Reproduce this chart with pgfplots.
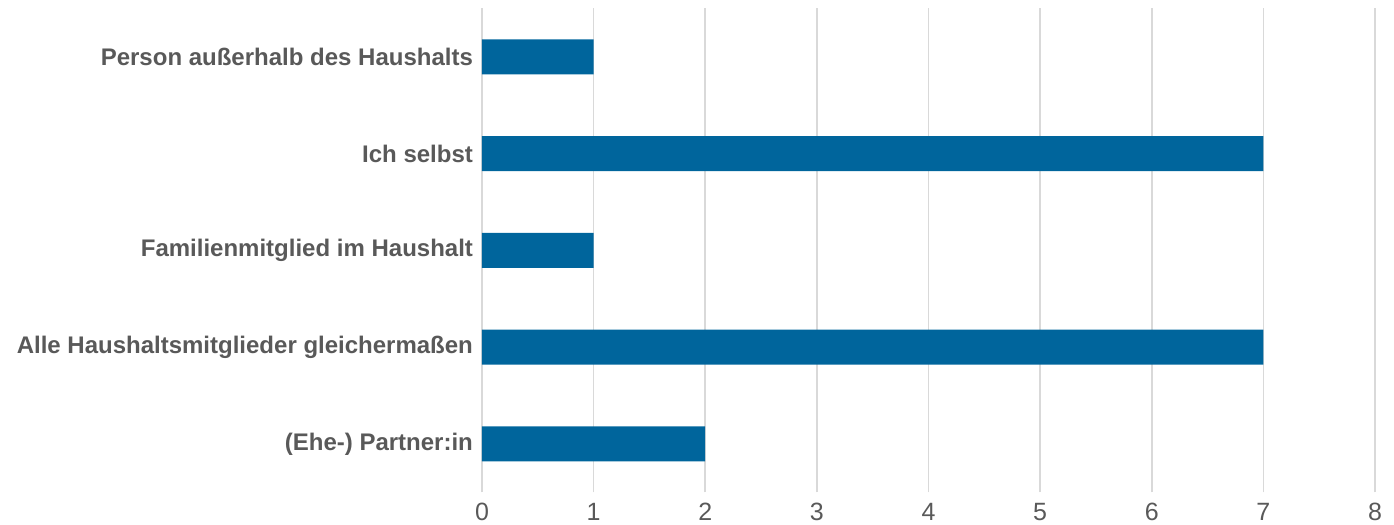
\documentclass[border=0pt]{standalone}
\usepackage{fontspec}
\setmainfont{Liberation Sans}
\usepackage{pgfplots}
\pgfplotsset{compat=1.18}
\definecolor{barblue}{HTML}{00659C}
\definecolor{gridgray}{HTML}{D9D9D9}
\definecolor{txtgray}{HTML}{595959}
\begin{document}
\begin{tikzpicture}
\useasboundingbox (0,0) rectangle (697pt,262.5pt);
\begin{axis}[
  at={(241pt,16.3pt)}, anchor=south west,
  scale only axis, width=446.5pt, height=242pt,
  xmin=0, xmax=8, ymin=-0.5, ymax=4.5,
  xbar, bar width=17.5pt,
  axis line style={draw=none},
  xmajorgrids, major grid style={gridgray, line width=0.8pt},
  xtick={0,...,8},
  ytick={0,1,2,3,4},
  yticklabels={(Ehe-) Partner:in, Alle Haushaltsmitglieder gleichermaßen, Familienmitglied im Haushalt, Ich selbst, Person außerhalb des Haushalts},
  yticklabel style={font=\fontsize{12}{14}\selectfont\bfseries, text=txtgray},
  xticklabel style={font=\fontsize{12.5}{14}\selectfont, text=txtgray},
  /pgf/number format/assume math mode=true,
  major tick length=0pt,
  ytick style={draw=none}, xtick style={draw=none},
  xticklabel shift=2pt,
  yticklabel shift=1pt,
  clip=false,
]
\addplot[fill=barblue, draw=none] coordinates {(2,0) (7,1) (1,2) (7,3) (1,4)};
\end{axis}
\end{tikzpicture}
\end{document}
